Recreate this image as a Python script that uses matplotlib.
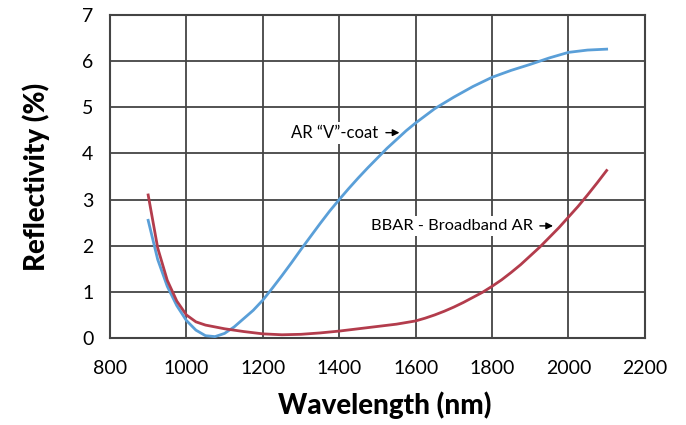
import matplotlib
matplotlib.use("Agg")
import matplotlib.pyplot as plt

# --- Data ---

wavelength_v = [900, 925, 950, 975, 1000, 1025, 1050, 1075, 1100, 1125, 1150, 1175,
                1200, 1225, 1250, 1275, 1300, 1325, 1350, 1375, 1400, 1425, 1450,
                1475, 1500, 1525, 1550, 1575, 1600, 1650, 1700, 1750, 1800, 1850,
                1900, 1950, 2000, 2050, 2100]
refl_v = [2.55, 1.70, 1.12, 0.70, 0.38, 0.17, 0.05, 0.03, 0.10, 0.24, 0.42, 0.60,
          0.82, 1.08, 1.35, 1.63, 1.92, 2.20, 2.48, 2.75, 3.00, 3.24, 3.47,
          3.69, 3.90, 4.11, 4.30, 4.49, 4.66, 4.97, 5.22, 5.45, 5.65, 5.80,
          5.93, 6.07, 6.19, 6.24, 6.26]

wavelength_bb = [900, 925, 950, 975, 1000, 1025, 1050, 1100, 1150, 1200, 1250, 1300,
                 1350, 1400, 1450, 1500, 1550, 1600, 1625, 1650, 1675, 1700, 1725,
                 1750, 1775, 1800, 1825, 1850, 1875, 1900, 1925, 1950, 1975, 2000,
                 2025, 2050, 2075, 2100]
refl_bb = [3.10, 1.95, 1.25, 0.80, 0.50, 0.35, 0.28, 0.20, 0.14, 0.09, 0.07, 0.08,
           0.11, 0.15, 0.20, 0.25, 0.30, 0.37, 0.43, 0.50, 0.58, 0.67, 0.77,
           0.88, 0.99, 1.12, 1.26, 1.42, 1.59, 1.78, 1.97, 2.18, 2.39, 2.62,
           2.85, 3.10, 3.36, 3.63]

x_ticks = [800, 1000, 1200, 1400, 1600, 1800, 2000, 2200]
y_ticks = [0, 1, 2, 3, 4, 5, 6, 7]

label_v = "AR \u201cV\u201d-coat"
label_bb = "BBAR - Broadband AR"

# --- Plot ---

plt.rcParams['font.family'] = ['Lato', 'DejaVu Sans']

fig = plt.figure(figsize=(6.86, 4.25), dpi=100)
ax = fig.add_axes([0.1603, 0.2047, 0.7797, 0.76])

ax.plot(wavelength_v, refl_v, color='#5a9fd8', lw=2, zorder=3)
ax.plot(wavelength_bb, refl_bb, color='#b33c4c', lw=2, zorder=3)

ax.set_xlim(800, 2200)
ax.set_ylim(0, 7)
ax.set_xticks(x_ticks)
ax.set_yticks(y_ticks)
ax.grid(True, color='#444444', lw=1.3)
ax.set_axisbelow(True)
for s in ax.spines.values():
    s.set_color('#444444')
    s.set_linewidth(1.5)
ax.tick_params(length=0, labelsize=14)
ax.tick_params(axis='x', pad=16)
ax.tick_params(axis='y', pad=12)

ax.set_xlabel("Wavelength (nm)", fontsize=20, fontweight='black')
ax.xaxis.set_label_coords(0.514, -0.165)
ax.set_ylabel("Reflectivity (%)", fontsize=20, fontweight='black')
ax.yaxis.set_label_coords(-0.112, 0.5)

box = dict(facecolor='white', edgecolor='none', pad=2)
ax.text(1502, 4.45, label_v, ha='right', va='center', fontsize=12, bbox=box, zorder=4)
ax.annotate('', xy=(1565, 4.45), xytext=(1515, 4.45),
            arrowprops=dict(arrowstyle='-|>', color='black', lw=1, mutation_scale=10),
            zorder=4)
ax.text(1907, 2.43, label_bb, ha='right', va='center', fontsize=11.8, bbox=box, zorder=4)
ax.annotate('', xy=(1967, 2.43), xytext=(1918, 2.43),
            arrowprops=dict(arrowstyle='-|>', color='black', lw=1, mutation_scale=10),
            zorder=4)

fig.savefig("out.png", dpi=100)
